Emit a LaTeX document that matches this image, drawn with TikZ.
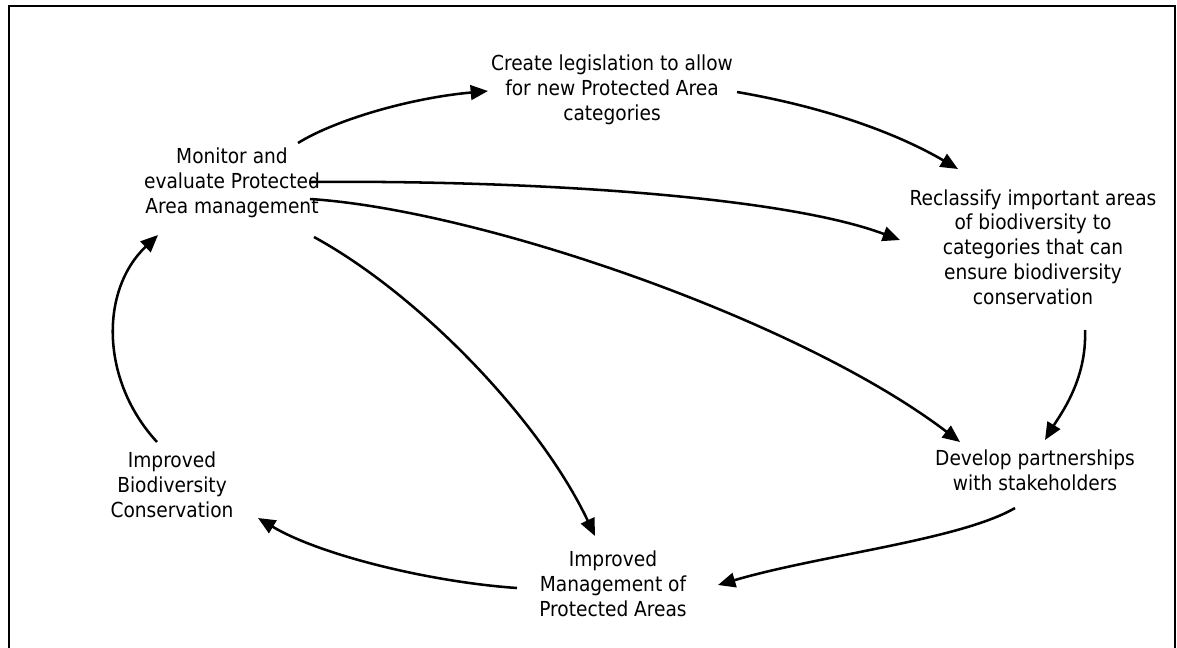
\documentclass[tikz,border=0pt]{standalone}
\usepackage{fontspec}
\setmainfont{DejaVu Sans Condensed}
\usetikzlibrary{arrows.meta}
\begin{document}
\begin{tikzpicture}[x=0.75pt,y=-0.75pt,
  lbl/.style={align=center,font=\fontsize{15.5}{18.6}\selectfont,inner sep=0pt},
  conn/.style={line width=1.9pt,-{Triangle[length=13pt,width=11pt]}}]
\useasboundingbox (0,0) rectangle (1177,647);
\draw[line width=1.5pt] (8.5,648) -- (8.5,5.5) -- (1175,5.5) -- (1175,648);
\node[lbl] (cre) at (612,90) {Create legislation to allow\\for new Protected Area\\categories};
\node[lbl] (mon) at (232,183) {Monitor and\\evaluate Protected\\Area management};
\node[lbl] (rec) at (1033,247) {Reclassify important areas\\of biodiversity to\\categories that can\\ensure biodiversity\\conservation};
\node[lbl] (dev) at (1035,470) {Develop partnerships\\with stakeholders};
\node[lbl] (img) at (613,584) {Improved\\Management of\\Protected Areas};
\node[lbl] (ibc) at (172,485) {Improved\\Biodiversity\\Conservation};
\draw[conn] ([shift={(66,-40)}]mon.center) .. controls (335,120) and (410,98) .. ([shift={(-124,1)}]cre.center);
\draw[conn] ([shift={(125,2)}]cre.center) .. controls (830,108) and (900,135) .. ([shift={(-75,-78)}]rec.center);
\draw[conn] ([shift={(78,-1)}]mon.center) .. controls (520,180) and (780,195) .. ([shift={(-133,-7)}]rec.center);
\draw[conn] ([shift={(78,16)}]mon.center) .. controls (480,210) and (800,320) .. ([shift={(-75,-28)}]dev.center);
\draw[conn] ([shift={(52,83)}]rec.center) .. controls (1087,380) and (1060,415) .. ([shift={(10,-30)}]dev.center);
\draw[conn] ([shift={(82,54)}]mon.center) .. controls (420,295) and (540,420) .. ([shift={(-18,-48)}]img.center);
\draw[conn] ([shift={(-20,38)}]dev.center) .. controls (960,540) and (820,555) .. ([shift={(105,1)}]img.center);
\draw[conn] ([shift={(-96,4)}]img.center) .. controls (430,582) and (320,555) .. ([shift={(86,33)}]ibc.center);
\draw[conn] ([shift={(-15,-43)}]ibc.center) .. controls (100,380) and (100,290) .. ([shift={(-74,52)}]mon.center);
\end{tikzpicture}
\end{document}
